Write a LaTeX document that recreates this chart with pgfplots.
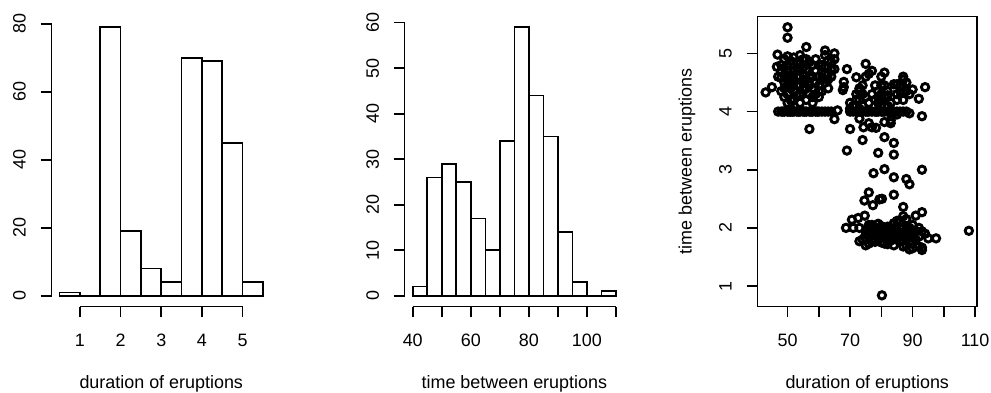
\documentclass[border=0pt]{standalone}
\usepackage{fontspec}
\setmainfont{Liberation Sans}
\usepackage{pgfplots}
\pgfplotsset{compat=1.18}

\pgfplotsset{
  rstyle/.style={
    scale only axis, width=219.5bp, height=290bp, anchor=south west,
    font=\fontsize{18}{21.6}\selectfont,
    tick align=outside, major tick length=10.8bp,
    every tick/.style={black, line width=1.6bp},
    xticklabel style={anchor=base, yshift=-28.7bp},
    yticklabel style={xshift=-15bp, rotate=90, anchor=base},
    xlabel style={at={(axis description cs:0.5,0)}, anchor=base, yshift=-81.5bp},
    clip=false,
  },
  rhist/.style={
    rstyle,
    axis x line*=bottom, axis y line*=left, axis line style={draw=none},
  }
}

\begin{document}
\begin{tikzpicture}
\useasboundingbox (0,0) rectangle (991bp,393bp);

% ---------- panel 1: histogram of durations ----------
\begin{axis}[rhist, at={(51.5bp,86.5bp)},
  xmin=0.3, xmax=5.7, ymin=-3.16, ymax=82.16,
  xtick={1,2,3,4,5}, xticklabels={1,2,3,4,5},
  ytick={0,20,40,60,80}, yticklabels={0,20,40,60,80},
  xlabel={duration of eruptions}]
\addplot[ybar interval, draw=black, fill=white, line width=1.6bp] coordinates {
 (0.5,1) (1,0) (1.5,79) (2,19) (2.5,8) (3,4) (3.5,70) (4,69) (4.5,45) (5,4) (5.5,4)};
\draw[line width=1.6bp] (axis cs:1,-3.16) -- (axis cs:5,-3.16);
\draw[line width=1.6bp] (axis cs:0.3,0) -- (axis cs:0.3,80);
\end{axis}

% ---------- panel 2: histogram of waiting times ----------
\begin{axis}[rhist, at={(404.6bp,86.5bp)},
  xmin=37.2, xmax=112.8, ymin=-2.36, ymax=61.36,
  xtick={40,50,...,110}, xticklabels={40,,60,,80,,100,},
  ytick={0,10,...,60}, yticklabels={0,10,20,30,40,50,60},
  xlabel={time between eruptions}]
\addplot[ybar interval, draw=black, fill=white, line width=1.6bp] coordinates {
 (40,2) (45,26) (50,29) (55,25) (60,17) (65,10) (70,34) (75,59) (80,44)
 (85,35) (90,14) (95,3) (100,0) (105,1) (110,1)};
\draw[line width=1.6bp] (axis cs:40,-2.36) -- (axis cs:110,-2.36);
\draw[line width=1.6bp] (axis cs:37.2,0) -- (axis cs:37.2,60);
\end{axis}

% ---------- panel 3: scatter ----------
\begin{axis}[rstyle, at={(757.5bp,86.5bp)},
  xmin=40.4, xmax=110.6, ymin=0.648, ymax=5.635,
  axis line style={line width=1.6bp},
  xtick pos=bottom, ytick pos=left,
  xtick={50,60,...,110}, xticklabels={50,,70,,90,,110},
  ytick={1,2,3,4,5}, yticklabels={1,2,3,4,5},
  xlabel={duration of eruptions},
  ylabel={time between eruptions},
  ylabel style={at={(axis description cs:-0.3007,0.5)}, anchor=base}]
\addplot[only marks, mark=o, mark size=3.7bp, mark options={line width=2.9bp, draw=black}] table {
x y
43 4.33
45 4.42
46.6 4.77
46.8 4.98
47 4.6
48 4.35
48 4.58
48 4.7
49 4.9
49 4.5
49 4.25
49 4.62
50 5.45
50 5.27
50 4.7
50 4.8
50 4.45
50 4.15
50 4.3
50 4.55
51 4.62
51 4.87
51 4.4
51 4.2
52 4.93
52 4.5
52 4.35
52 4.1
53 4.75
53 4.6
53 4.27
54 4.97
54 4.45
54 4.82
54 4.15
55 4.65
55 4.9
55 4.38
56 5.11
56 4.55
56 4.72
56 4.2
57 4.85
57 4.45
57 4.3
57 3.7
58 4.6
58 4.4
58 4.15
59 4.7
59 4.3
59 4.5
60 4.6
60 4.45
60 4.25
60 4.8
61 4.55
61 4.68
61 4.35
62 5.05
62 4.97
62 4.78
62 4.5
63 4.65
63 4.88
63 4.4
64 4.72
64 4.6
65 5.0
65 4.9
65 4.73
65 3.87
66 4.02
48 4.8
49 4.75
50 4.95
51 4.55
52 4.7
53 4.85
53 4.45
54 4.3
55 4.5
55 4.75
56 4.4
57 4.6
58 4.8
58 4.25
59 4.9
60 4.35
61 4.8
62 4.65
63 4.55
64 4.85
52 4.2
51 4.05
54 4.6
56 4.9
49 4.4
47 4
48 4
48.5 4
49 4
50 4
50.5 4
51 4
51.5 4
52 4
53 4
53.5 4
54 4
55 4
55.5 4
56 4
57 4
57.5 4
58 4
59 4
59.5 4
60 4
61 4
62 4
63 4
64 4
67.7 4.37
68 4.51
69 4.73
69 3.33
70 3.70
68 4.42
70 4
71 4
72 4
73 4
74 4
75 4
75.5 4
76 4
77 4
78 4
78.5 4
79 4
80 4
80.5 4
81 4
82 4
83 4
84 4
85 4
86 4
87 4
88 4
89 3.97
93 3.92
70 4.05
70 4.15
71 4.1
72 4.59
73 4.35
73 4.4
73 4.2
74 4.3
74 4.1
75 4.82
75 4.6
76 4.65
77 4.7
74 3.51
74.3 3.73
77 3.73
78.3 3.72
78 4.45
79 4.25
79 4.15
80 4.3
80 4.2
81 4.67
81 4.45
81 3.56
81 3.82
82 4.1
82 4.35
82 4.28
83 3.8
83 3.85
84 4.47
84 3.46
84 3.26
85 4.47
85 4.3
86 4.35
87 4.6
87 4.2
87 4.42
88 4.35
90 4.38
92 4.22
94 4.42
73 3.88
76 3.8
79 3.29
85 3.95
80 4.1
72 4.2
72 4.3
73 4.05
74 4.45
75 4.25
76 4.15
77 4.3
78 4.2
79 4.35
80 4.45
81 4.25
83 4.15
85 4.2
86 4.45
88 4.5
89 4.3
87 4.55
80 4.6
77.5 2.94
81 3.01
84 2.87
88 2.84
89 2.75
93 3.0
76 2.61
74.6 2.47
77.3 2.39
79.4 2.49
80.2 2.5
84 2.57
93 2.27
68.7 2.0
70.6 2.14
71 2.0
73 2.0
72.6 2.17
74.7 2.21
73 1.77
75 1.70
74 1.8
75 1.95
76 2.0
76 1.85
77 1.93
77 2.05
77 1.78
78 2.0
78 1.88
78 1.95
79 2.07
79 1.82
79 1.97
80 2.0
80 1.9
80 1.75
80 2.03
81 1.85
81 1.95
81 2.0
82 1.77
82 1.9
82 2.02
82 1.72
83 1.95
83 1.83
83 2.0
84 1.93
84 2.08
84 1.7
85 2.12
85 1.87
85 1.97
86 2.0
86 1.78
86 2.1
87 1.92
87 1.68
87 2.0
88 2.15
88 1.82
88 1.95
89 1.63
89 2.0
89 1.88
90 2.05
90 1.9
90 1.75
91 2.21
91 1.95
92 1.85
92 1.68
93 1.66
93 1.94
93 1.62
95 1.82
97.5 1.82
108 1.95
80.2 0.84
87 2.2
87 2.36
86 2.12
84 1.97
83 1.78
81 1.73
79 1.85
78 1.76
77 1.88
76 1.73
86 1.92
88 1.7
90 1.65
92 2.0
94 1.9
75 1.88
76 2.05
78 1.8
79 1.92
80 1.85
81 1.9
82 1.85
83 1.9
84 1.82
85 1.8
86 1.85
87 1.78
88 1.88
89 1.75
90 1.83
91 1.8
};
\end{axis}
\end{tikzpicture}
\end{document}
